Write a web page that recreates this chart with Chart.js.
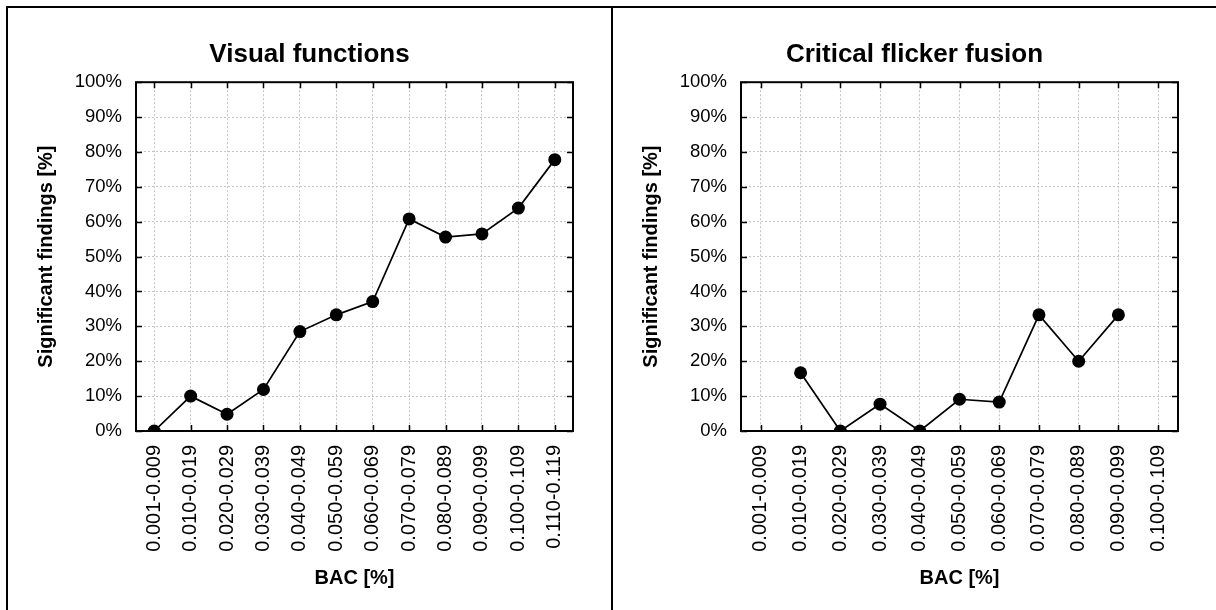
<!DOCTYPE html>
<html>
<head>
<meta charset="utf-8">
<title>Significant findings by BAC</title>
<script src="https://cdn.jsdelivr.net/npm/chart.js@4.4.1/dist/chart.umd.min.js"></script>
<style>
  html, body { margin: 0; padding: 0; background: #fff; }
  body { width: 1216px; height: 610px; position: relative; overflow: hidden; }
  .rule { position: absolute; background: #000; }
  .panel { position: absolute; top: 8px; width: 603px; height: 602px; }
  canvas { display: block; }
</style>
</head>
<body>
<div class="rule" style="left:6px;top:6px;width:1210px;height:2px"></div>
<div class="rule" style="left:6px;top:6px;width:2px;height:604px"></div>
<div class="rule" style="left:611px;top:6px;width:2px;height:604px"></div>
<div class="panel" style="left:8px"><canvas id="visual" width="603" height="602"></canvas></div>
<div class="panel" style="left:613px"><canvas id="flicker" width="603" height="602"></canvas></div>

<script>
// BAC groups (blood alcohol concentration, %)
const visualCategories = [
  '0.001-0.009', '0.010-0.019', '0.020-0.029', '0.030-0.039',
  '0.040-0.049', '0.050-0.059', '0.060-0.069', '0.070-0.079',
  '0.080-0.089', '0.090-0.099', '0.100-0.109', '0.110-0.119'
];
const flickerCategories = [
  '0.001-0.009', '0.010-0.019', '0.020-0.029', '0.030-0.039',
  '0.040-0.049', '0.050-0.059', '0.060-0.069', '0.070-0.079',
  '0.080-0.089', '0.090-0.099', '0.100-0.109'
];

// Share of significant findings per group, %
const visualFindings = [0, 10, 4.8, 11.9, 28.5, 33.3, 37.1, 60.8, 55.6, 56.5, 63.9, 77.8];
const flickerFindings = [null, 16.7, 0, 7.7, 0, 9.1, 8.3, 33.3, 20, 33.3, null];

// Y axis ticks
const yTicks = [0, 10, 20, 30, 40, 50, 60, 70, 80, 90, 100];

Chart.defaults.font.family = '"Liberation Sans", Arial, sans-serif';
Chart.defaults.color = '#000';

// Frame around the plot area plus inward tick marks on all four sides
const frameTicks = {
  id: 'frameTicks',
  afterDraw(chart) {
    const { ctx, chartArea: a, scales: { x, y } } = chart;
    const len = 6;
    ctx.save();
    ctx.strokeStyle = '#000';
    ctx.lineWidth = 1.5;
    ctx.beginPath();
    x.ticks.forEach((t, i) => {
      const px = Math.round(x.getPixelForTick(i)) + 0.5;
      ctx.moveTo(px, a.bottom); ctx.lineTo(px, a.bottom - len);
      ctx.moveTo(px, a.top); ctx.lineTo(px, a.top + len);
    });
    y.ticks.forEach((t, i) => {
      const py = Math.round(y.getPixelForTick(i)) + 0.5;
      ctx.moveTo(a.left, py); ctx.lineTo(a.left + len, py);
      ctx.moveTo(a.right, py); ctx.lineTo(a.right - len, py);
    });
    ctx.stroke();
    ctx.lineWidth = 2;
    ctx.strokeRect(a.left, a.top, a.right - a.left, a.bottom - a.top);
    ctx.restore();
  }
};

function makeChart(id, title, labels, values) {
  return new Chart(document.getElementById(id), {
    type: 'line',
    data: {
      labels: labels,
      datasets: [{
        data: values,
        borderColor: '#000',
        backgroundColor: '#000',
        borderWidth: 1.7,
        pointRadius: 6.5,
        pointHoverRadius: 6.5,
        pointBorderWidth: 0,
        pointBackgroundColor: '#000',
        tension: 0,
        spanGaps: false
      }]
    },
    options: {
      responsive: false,
      animation: false,
      devicePixelRatio: 1,
      layout: { padding: 0 },
      plugins: {
        legend: { display: false },
        tooltip: { enabled: false },
        title: {
          display: true,
          text: title,
          font: { size: 26, weight: 'bold' },
          padding: { top: 31, bottom: 12 }
        }
      },
      scales: {
        x: {
          type: 'category',
          offset: true,
          grid: {
            color: '#c4c4c4',
            lineWidth: 1,
            drawTicks: false,
            offset: false
          },
          border: { display: false, dash: [2, 2] },
          ticks: {
            minRotation: 90,
            maxRotation: 90,
            autoSkip: false,
            padding: 14,
            font: { size: 20 }
          },
          title: {
            display: true,
            text: 'BAC [%]',
            font: { size: 20, weight: 'bold' },
            padding: { top: 0, bottom: 20 }
          },
          afterFit(scale) { scale.height = 179; }
        },
        y: {
          min: 0,
          max: 100,
          afterBuildTicks(scale) { scale.ticks = yTicks.map(v => ({ value: v })); },
          grid: {
            color: '#c4c4c4',
            lineWidth: 1,
            drawTicks: false
          },
          border: { display: false, dash: [2, 2] },
          ticks: {
            padding: 14,
            font: { size: 18.5 },
            callback: v => v + '%'
          },
          title: {
            display: true,
            text: 'Significant findings [%]',
            font: { size: 20, weight: 'bold' },
            padding: { top: 26, bottom: 0 }
          },
          afterFit(scale) { scale.width = 128; }
        },
        // empty right-hand margin beside the plot
        margin: {
          type: 'linear',
          position: 'right',
          display: true,
          grid: { display: false, drawTicks: false },
          border: { display: false },
          ticks: { display: false },
          afterFit(scale) { scale.width = 38; }
        }
      }
    },
    plugins: [frameTicks]
  });
}

makeChart('visual', 'Visual functions', visualCategories, visualFindings);
makeChart('flicker', 'Critical flicker fusion', flickerCategories, flickerFindings);
</script>
</body>
</html>
